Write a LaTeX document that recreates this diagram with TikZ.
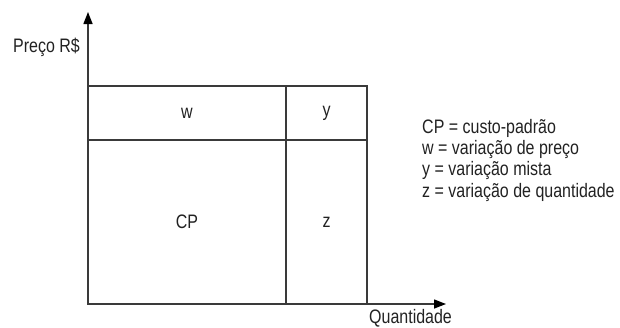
\documentclass[tikz,border=0pt]{standalone}
\usepackage{fontspec}
\setmainfont{Liberation Sans}[FakeStretch=0.82]
\usetikzlibrary{arrows.meta}
\definecolor{ink}{HTML}{222222}
\definecolor{linec}{HTML}{3A3A3A}
\begin{document}
\begin{tikzpicture}[x=1pt,y=-1pt,
  every node/.style={font=\fontsize{19.5}{21.5}\selectfont, text=ink},
  cell/.style={draw=linec, line width=1.4pt, minimum width=#1, inner sep=0pt, outer sep=0pt},
  axis/.style={draw=linec, line width=1.4pt, -{Triangle[length=12pt,width=9pt,fill=black,color=black]}},
  leg/.style={anchor=base west, inner sep=0pt}]
\useasboundingbox (0,0) rectangle (620,327);
% cells
\node[cell=198pt, minimum height=54pt, anchor=north west] (w) at (88,86) {w};
\node[cell=81pt, minimum height=54pt, anchor=north west] (y) at (286,86) {y};
\node[cell=198pt, minimum height=164pt, anchor=north west] (cp) at (88,140) {CP};
\node[cell=81pt, minimum height=164pt, anchor=north west] (z) at (286,140) {z};
% axes
\coordinate (O) at (88,304);
\coordinate (ytip) at (88,12);
\coordinate (xtip) at (446,304);
\draw[axis] (O) -- (ytip);
\draw[axis] (O) -- (xtip);
% axis labels
\node[anchor=east, inner sep=0pt] (py) at (80,47) {Preço R\$};
\node[anchor=north west, inner sep=0pt] (qx) at (369,309) {Quantidade};
% legend
\node[leg] (l1) at (422,133) {CP = custo-padrão};
\node[leg] (l2) at (422,154.3) {w = variação de preço};
\node[leg] (l3) at (422,175.6) {y = variação mista};
\node[leg] (l4) at (422,197) {z = variação de quantidade};
\end{tikzpicture}
\end{document}
